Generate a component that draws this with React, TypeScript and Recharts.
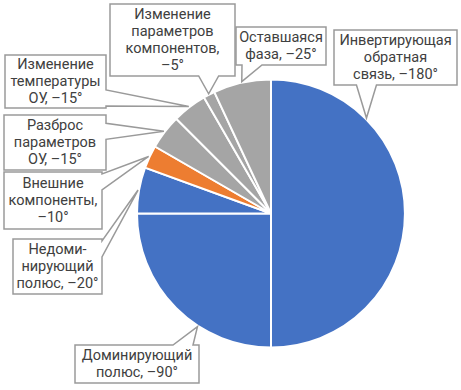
import { Cell, Pie, PieChart } from "recharts";

// phase budget, degrees, clockwise from 12 o'clock
const categories = [
  "Инвертирующая обратная связь",
  "Доминирующий полюс",
  "Недоминирующий полюс",
  "Внешние компоненты",
  "Разброс параметров ОУ",
  "Изменение температуры ОУ",
  "Изменение параметров компонентов",
  "Оставшаяся фаза",
];
const degrees = [180, 90, 20, 10, 15, 15, 5, 25];
const labelLines = [
  ["Инвертирующая", "обратная", "связь, –180°"],
  ["Доминирующий", "полюс, –90°"],
  ["Недоми-", "нирующий", "полюс, –20°"],
  ["Внешние", "компоненты,", "–10°"],
  ["Разброс", "параметров", "ОУ, –15°"],
  ["Изменение", "температуры", "ОУ, –15°"],
  ["Изменение", "параметров", "компонентов,", "–5°"],
  ["Оставшаяся", "фаза, –25°"],
];

const BLUE = "#4472C4";
const ORANGE = "#ED7D31";
const GRAY = "#A5A5A5";
const sliceColors = [BLUE, BLUE, BLUE, ORANGE, GRAY, GRAY, GRAY, GRAY];

// callout boxes (page coords); tipShift moves the pointer away from the slice middle
const labelBoxes = [
  { x: 334, y: 30, w: 123, h: 55, side: "bottom", tipShift: 45 },
  { x: 75, y: 345, w: 124, h: 38, side: "top", tipShift: 12 },
  { x: 13, y: 239, w: 89, h: 55, side: "right", tipShift: 0 },
  { x: 4, y: 172, w: 98, h: 57, side: "right", tipShift: 0 },
  { x: 4, y: 115, w: 102, h: 55, side: "right", tipShift: 0 },
  { x: 5, y: 55, w: 101, h: 53, side: "right", tipShift: 0 },
  { x: 110, y: 4, w: 125, h: 72, side: "bottom", tipShift: 0 },
  { x: 236, y: 27, w: 90, h: 38, side: "bottom", tipShift: 0 },
];

const data = categories.map((name, i) => ({ name, value: degrees[i] }));

const RADIAN = Math.PI / 180;
const LINE_H = 17;

const clamp = (v: number, lo: number, hi: number) =>
  Math.max(lo, Math.min(hi, v));

function calloutPath(b, tip, side) {
  const r = b.x + b.w;
  const bt = b.y + b.h;
  if (side === "bottom" || side === "top") {
    const half = 10;
    const c = clamp(tip.x, b.x + 6 + half, r - 6 - half);
    if (side === "bottom") {
      return `M${b.x},${b.y}H${r}V${bt}H${c + half}L${tip.x},${tip.y}L${c - half},${bt}H${b.x}Z`;
    }
    return `M${b.x},${b.y}H${c - half}L${tip.x},${tip.y}L${c + half},${b.y}H${r}V${bt}H${b.x}Z`;
  }
  const half = 8;
  const c = clamp(tip.y, b.y + 2 + half, bt - 2 - half);
  return `M${b.x},${b.y}H${r}V${c - half}L${tip.x},${tip.y}L${r},${c + half}V${bt}H${b.x}Z`;
}

const CalloutLabel = (props) => {
  const { cx, cy, midAngle, outerRadius, index } = props;
  const box = labelBoxes[index];
  const lines = labelLines[index];
  const angle = (midAngle + box.tipShift) * RADIAN;
  const tip = {
    x: cx + (outerRadius + 1) * Math.cos(angle),
    y: cy - (outerRadius + 1) * Math.sin(angle),
  };
  const firstBase = box.y + box.h / 2 - (lines.length * LINE_H) / 2 + 13;

  return (
    <g>
      <path
        d={calloutPath(box, tip, box.side)}
        fill="#ffffff"
        stroke="#9a9a9a"
        strokeWidth={1.5}
        strokeLinejoin="miter"
      />
      <text
        fill="#404040"
        fontFamily="Roboto, sans-serif"
        fontSize={14.5}
        textAnchor="middle"
      >
        {lines.map((line, i) => (
          <tspan key={i} x={box.x + box.w / 2} y={firstBase + i * LINE_H}>
            {line}
          </tspan>
        ))}
      </text>
    </g>
  );
};

export default function App() {
  return (
    <div style={{ position: "absolute", left: 0, top: 0, background: "#fff" }}>
      <PieChart
        width={461}
        height={390}
        margin={{ top: 0, right: 0, bottom: 0, left: 0 }}
      >
        <Pie
          data={data}
          dataKey="value"
          nameKey="name"
          cx={271}
          cy={213.5}
          outerRadius={134}
          startAngle={90}
          endAngle={-270}
          stroke="#ffffff"
          strokeWidth={2}
          label={CalloutLabel}
          labelLine={false}
          isAnimationActive={false}
        >
          {data.map((entry, i) => (
            <Cell key={entry.name} fill={sliceColors[i]} />
          ))}
        </Pie>
      </PieChart>
    </div>
  );
}
